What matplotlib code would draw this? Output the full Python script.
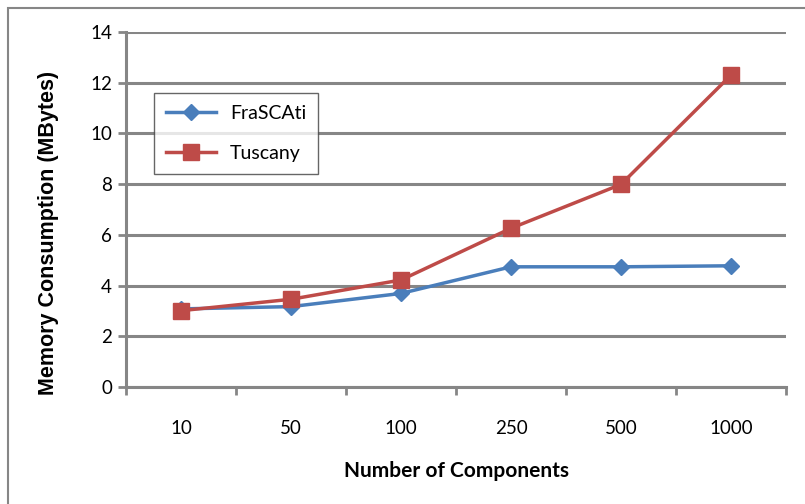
import matplotlib.pyplot as plt
from matplotlib.patches import Rectangle

# Data
components = ['10', '50', '100', '250', '500', '1000']
frascati = [3.08, 3.17, 3.69, 4.74, 4.74, 4.78]
tuscany = [3.01, 3.46, 4.22, 6.26, 7.99, 12.3]

grey = '#868686'
tick_font = ['Lato', 'DejaVu Sans']

fig = plt.figure(figsize=(8.05, 5.04), dpi=100)
ax = fig.add_axes([126 / 805, 1 - 387 / 504, 660 / 805, 355 / 504])

# outer chart frame (partly cut off on the right and bottom)
fig.patches.append(Rectangle((8 / 805, -0.1), 1.2, 1 - 8 / 504 + 0.1,
                             transform=fig.transFigure, fill=False,
                             edgecolor=grey, linewidth=1.5))

x = list(range(len(components)))
ax.plot(x, frascati, color='#4A7EBB', linewidth=2.5, marker='D', markersize=8.5,
        label='FraSCAti', zorder=3)
ax.plot(x, tuscany, color='#BE4B48', linewidth=2.5, marker='s', markersize=11,
        label='Tuscany', zorder=4)

ax.set_xlim(-0.5, len(components) - 0.5)
ax.set_ylim(0, 14)
ax.set_yticks(range(0, 15, 2))
ax.set_xticks(x)
ax.set_xticklabels(components)
ax.set_xticks([i - 0.5 for i in range(len(components) + 1)], minor=True)
ax.tick_params(axis='x', which='major', length=0, pad=24, labelsize=13.5)
ax.tick_params(axis='x', which='minor', length=6, width=2, color=grey, direction='out')
ax.tick_params(axis='y', length=6, width=2, color=grey, pad=4, labelsize=13.5)
for lbl in ax.get_xticklabels() + ax.get_yticklabels():
    lbl.set_family(tick_font)

ax.grid(axis='y', color=grey, linewidth=2.2)
ax.set_axisbelow(True)
for side in ['top', 'right']:
    ax.spines[side].set_visible(False)
for side in ['left', 'bottom']:
    ax.spines[side].set_color(grey)
    ax.spines[side].set_linewidth(2.2)

ax.set_ylabel('Memory Consumption (MBytes)', fontsize=15.5, fontweight='bold',
              family=['Liberation Sans', 'DejaVu Sans'])
ax.yaxis.set_label_coords(-67 / 660, (387 - 233) / 355)
ax.set_xlabel('Number of Components', fontsize=15, fontweight='bold',
              family=tick_font, labelpad=17)

leg = ax.legend(loc='upper left', bbox_to_anchor=(28 / 660, 1 - 61 / 355),
                frameon=True, fancybox=False, edgecolor='#404040',
                prop={'family': tick_font, 'size': 14}, borderpad=0.6,
                borderaxespad=0, labelspacing=1.2, handlelength=2.6,
                handletextpad=0.7)
leg.get_frame().set_linewidth(1)

fig.savefig('out.png', dpi=100)
